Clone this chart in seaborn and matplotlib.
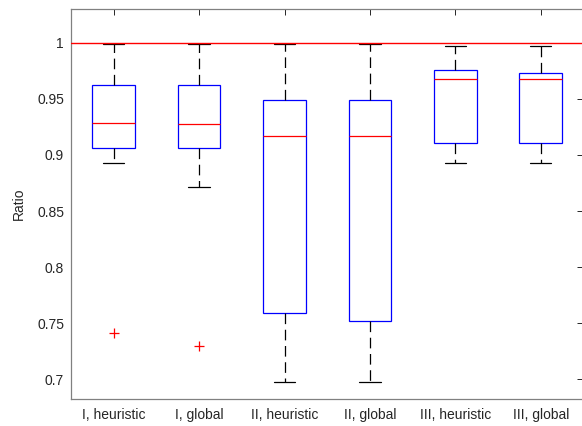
import numpy as np
import pandas as pd
import matplotlib
matplotlib.use("Agg")
import matplotlib.pyplot as plt
import seaborn as sns

# Ratio samples for each case / solver combination
groups = ["I, heuristic", "I, global", "II, heuristic", "II, global",
          "III, heuristic", "III, global"]
ratio_I_heuristic = [0.7414, 0.8926, 0.9063, 0.9150, 0.9283, 0.9450, 0.9619, 0.9800, 0.9991]
ratio_I_global = [0.7298, 0.8717, 0.9063, 0.9150, 0.9274, 0.9450, 0.9619, 0.9800, 0.9991]
ratio_II_heuristic = [0.6973, 0.7200, 0.7595, 0.8500, 0.9167, 0.9300, 0.9490, 0.9800, 0.9991]
ratio_II_global = [0.6973, 0.7200, 0.7518, 0.8500, 0.9167, 0.9300, 0.9490, 0.9800, 0.9991]
ratio_III_heuristic = [0.8926, 0.9000, 0.9107, 0.9400, 0.9679, 0.9700, 0.9753, 0.9900, 0.9970]
ratio_III_global = [0.8926, 0.9000, 0.9107, 0.9400, 0.9679, 0.9700, 0.9726, 0.9900, 0.9970]
reference_ratio = 1.0
y_ticks = [0.7, 0.75, 0.8, 0.85, 0.9, 0.95, 1.0]
y_tick_labels = ["0.7", "0.75", "0.8", "0.85", "0.9", "0.95", "1"]

samples = [ratio_I_heuristic, ratio_I_global, ratio_II_heuristic,
           ratio_II_global, ratio_III_heuristic, ratio_III_global]
df = pd.DataFrame({
    "group": np.repeat(groups, [len(s) for s in samples]),
    "Ratio": np.concatenate(samples),
})

sns.set_style("white")
plt.rcParams["font.family"] = ["Liberation Sans", "DejaVu Sans"]

fig = plt.figure(figsize=(5.82, 4.26), dpi=100)
ax = fig.add_axes([0.122, 0.0627, 0.8804, 0.9169])

sns.boxplot(
    data=df, x="group", y="Ratio", order=groups, ax=ax,
    width=0.5, whis=1.5, color="white", linewidth=0.9,
    boxprops=dict(edgecolor="blue", facecolor="white", linewidth=0.9),
    medianprops=dict(color="red", linewidth=0.9),
    whiskerprops=dict(color="black", linewidth=0.9, linestyle=(0, (8.5, 4.5))),
    capprops=dict(color="black", linewidth=0.9),
    flierprops=dict(marker="+", markeredgecolor="red", markerfacecolor="none",
                    markersize=6.5, markeredgewidth=0.9, linestyle="none"),
)

ax.axhline(reference_ratio, color="red", linewidth=1.0, zorder=5)

ax.set_xlim(-0.5, len(groups) - 0.5)
ax.set_ylim(0.6822, 1.0303)
ax.set_yticks(y_ticks)
ax.set_yticklabels(y_tick_labels)
ax.set_xlabel("")
ax.set_ylabel("Ratio", fontsize=10, color="#262626", labelpad=8)

for side, spine in ax.spines.items():
    spine.set_visible(True)
    spine.set_color("#808080")
    spine.set_linewidth(0.9)

ax.tick_params(axis="both", direction="in", length=4, width=0.7,
               color="#262626", labelsize=10, labelcolor="#262626",
               top=True, right=True)
ax.tick_params(axis="x", pad=6)
ax.tick_params(axis="y", pad=5)
ax.grid(False)

fig.savefig("out.png", dpi=100)
